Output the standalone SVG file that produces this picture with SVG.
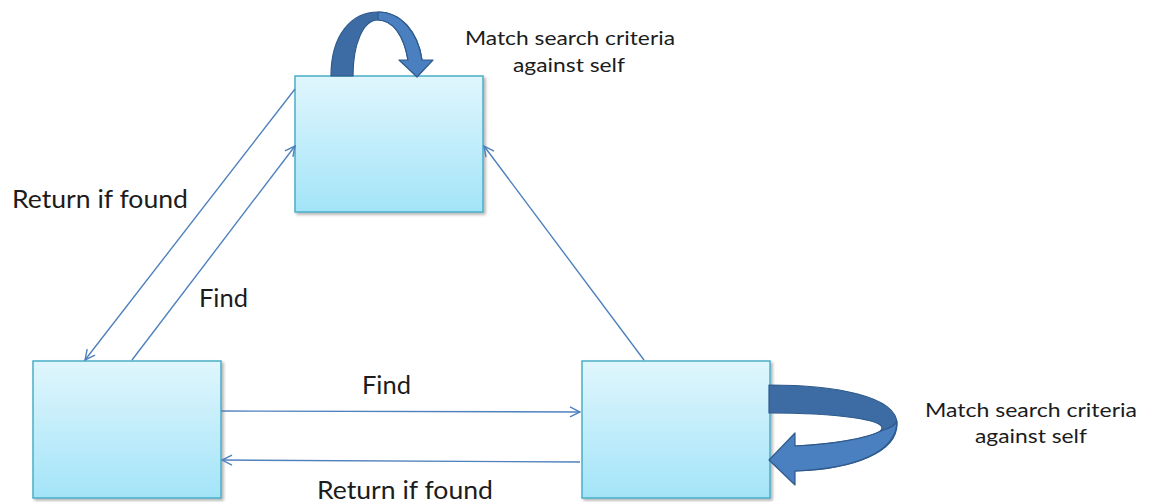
<svg xmlns="http://www.w3.org/2000/svg" width="1149" height="502" viewBox="0 0 1149 502">
  <defs>
    <linearGradient id="boxFill" x1="0" y1="0" x2="0" y2="1">
      <stop offset="0" stop-color="#e0f6fd"/>
      <stop offset="1" stop-color="#a3e4f8"/>
    </linearGradient>
    <filter id="shadow" x="-10%" y="-10%" width="130%" height="130%">
      <feGaussianBlur in="SourceAlpha" stdDeviation="1.5"/>
      <feOffset dx="1.5" dy="2" result="b"/>
      <feComponentTransfer><feFuncA type="linear" slope="0.3"/></feComponentTransfer>
      <feMerge><feMergeNode/><feMergeNode in="SourceGraphic"/></feMerge>
    </filter>
    <marker id="open" viewBox="0 0 12 12" refX="11" refY="6" markerWidth="12" markerHeight="12" markerUnits="userSpaceOnUse" orient="auto">
      <path d="M1,1 L11,6 L1,11" fill="none" stroke="#4f81bd" stroke-width="1.4"/>
    </marker>
    <style>
      .box { fill: url(#boxFill); stroke: #4aaec8; stroke-width: 1.5; }
      .conn { fill: none; stroke: #4f81bd; stroke-width: 1.4; marker-end: url(#open); }
      .lbl { font-family: Lato, "Liberation Sans", sans-serif; fill: #1c1c1c; }
      .big { font-size: 25px; }
      .small { font-size: 19.5px; text-anchor: middle; }
      .loopDark { fill: #3c6ca3; stroke: #2f5a8c; stroke-width: 1.2; stroke-linejoin: round; }
      .loopLight { fill: #4a7fc0; stroke: #2f5a8c; stroke-width: 1.2; stroke-linejoin: round; }
    </style>
  </defs>

  <!-- nodes -->
  <g id="node-top">
    <rect class="box" x="295" y="76" width="188" height="136" filter="url(#shadow)"/>
  </g>
  <g id="node-left">
    <rect class="box" x="33" y="361" width="188" height="137" filter="url(#shadow)"/>
  </g>
  <g id="node-right">
    <rect class="box" x="582" y="361" width="188" height="137" filter="url(#shadow)"/>
  </g>

  <!-- connectors -->
  <g id="connectors">
    <line class="conn" x1="295" y1="89" x2="85" y2="360"/>
    <line class="conn" x1="132" y1="360" x2="295" y2="146"/>
    <line class="conn" x1="644" y1="360" x2="484" y2="146"/>
    <line class="conn" x1="221" y1="411" x2="580" y2="412"/>
    <line class="conn" x1="580" y1="462" x2="222" y2="460"/>
  </g>

  <!-- self-loop on the top node -->
  <g id="loop-top">
    <path class="loopDark" d="M331,76 C331,34 352,12 378,12 C401,12 418,32 422,60 L408,60 C404,36 393,20 378,20 C363,20 353,44 353,76 Z"/>
    <path class="loopLight" d="M378,12 C401,12 418,32 422,60 L433,60 L417,77 L399,60 L408,60 C404,36 393,20 378,20 Z"/>
  </g>

  <!-- self-loop on the lower right node -->
  <g id="loop-right">
    <path class="loopDark" d="M769,385 C835,385 897,396 897,424 C897,452 855,469 795,471 L795,446 C840,444 882,436 882,428 C882,420 840,413 769,413 Z"/>
    <path class="loopLight" d="M881,431 C890,428 896,425 897,421 C897,452 855,469 795,471 L795,485 L769,460 L795,433 L795,446 C835,444 868,438 881,431 Z"/>
  </g>

  <!-- labels -->
  <g id="labels">
    <text class="lbl big" x="12" y="208" textLength="176" lengthAdjust="spacingAndGlyphs">Return if found</text>
    <text class="lbl big" x="199" y="307" textLength="49" lengthAdjust="spacingAndGlyphs">Find</text>
    <text class="lbl big" x="362" y="394" textLength="49" lengthAdjust="spacingAndGlyphs">Find</text>
    <text class="lbl big" x="317" y="499" textLength="176" lengthAdjust="spacingAndGlyphs">Return if found</text>
    <text class="lbl small" x="570" y="45" textLength="210" lengthAdjust="spacingAndGlyphs">Match search criteria</text>
    <text class="lbl small" x="569" y="72" textLength="112" lengthAdjust="spacingAndGlyphs">against self</text>
    <text class="lbl small" x="1031" y="417" textLength="212" lengthAdjust="spacingAndGlyphs">Match search criteria</text>
    <text class="lbl small" x="1031" y="443" textLength="112" lengthAdjust="spacingAndGlyphs">against self</text>
  </g>
</svg>
